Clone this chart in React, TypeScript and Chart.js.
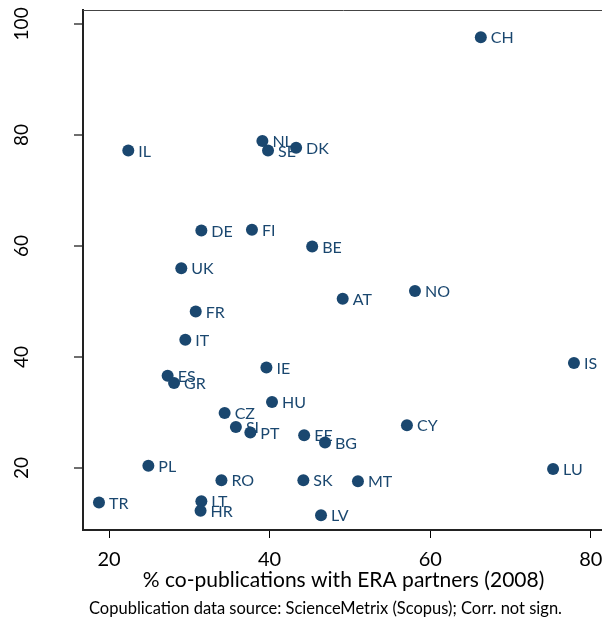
import React, { useEffect, useRef } from 'react';
import { Chart, registerables } from 'chart.js';

Chart.register(...registerables);

const countries = ['CH', 'IL', 'NL', 'SE', 'DK', 'DE', 'FI', 'BE', 'UK', 'AT', 'NO', 'FR', 'IT', 'IE', 'IS', 'ES', 'GR', 'HU', 'CZ', 'SI', 'PT', 'EE', 'BG', 'CY', 'PL', 'LU', 'RO', 'SK', 'MT', 'TR', 'LT', 'HR', 'LV'];
const eraCopubShare = [66.3, 22.4, 39.1, 39.8, 43.3, 31.5, 37.8, 45.3, 29.0, 49.1, 58.1, 30.8, 29.5, 39.6, 77.9, 27.3, 28.1, 40.3, 34.4, 35.8, 37.6, 44.3, 46.9, 57.1, 24.9, 75.3, 34.0, 44.2, 51.0, 18.75, 31.5, 31.4, 46.4];
const yValues = [97.6, 77.2, 78.9, 77.2, 77.7, 62.8, 62.9, 59.9, 56.0, 50.5, 51.9, 48.2, 43.1, 38.1, 38.9, 36.6, 35.3, 31.9, 29.9, 27.4, 26.4, 25.9, 24.6, 27.7, 20.4, 19.8, 17.8, 17.8, 17.6, 13.8, 14.0, 12.3, 11.5];
const xTicks = [20, 40, 60, 80];
const yTicks = [20, 40, 60, 80, 100];
const xTitle = '% co-publications with ERA partners (2008)';
const footer = 'Copublication data source: ScienceMetrix (Scopus); Corr. not sign.';

const NAVY = '#1a476f';
const FONT = 'Lato';

const pointLabels = {
  id: 'pointLabels',
  afterDatasetsDraw(chart: any) {
    const ctx = chart.ctx;
    const meta = chart.getDatasetMeta(0);
    ctx.save();
    ctx.fillStyle = NAVY;
    ctx.font = `16px ${FONT}`;
    ctx.textAlign = 'left';
    ctx.textBaseline = 'middle';
    meta.data.forEach((el: any, i: number) => {
      ctx.fillText(countries[i], el.x + 10, el.y + 1);
    });
    ctx.restore();
  },
};

const frameAndTexts = {
  id: 'frameAndTexts',
  afterDraw(chart: any) {
    const ctx = chart.ctx;
    const { left, right, top } = chart.chartArea;
    ctx.save();
    ctx.strokeStyle = '#444';
    ctx.lineWidth = 1;
    ctx.beginPath();
    ctx.moveTo(left, top + 0.5);
    ctx.lineTo(right, top + 0.5);
    ctx.stroke();
    const ys = chart.scales.y;
    ctx.fillStyle = '#000';
    ctx.font = `19px ${FONT}`;
    ctx.textAlign = 'center';
    ctx.textBaseline = 'middle';
    yTicks.forEach((v) => {
      const py = ys.getPixelForValue(v);
      ctx.save();
      ctx.translate(22, py);
      ctx.rotate(-Math.PI / 2);
      ctx.fillText(String(v), 0, 0);
      ctx.restore();
    });
    ctx.font = `16.5px ${FONT}`;
    ctx.fillText(footer, 325.5, 608.5);
    ctx.restore();
  },
};

export default function App() {
  const ref = useRef<HTMLCanvasElement | null>(null);
  useEffect(() => {
    if (!ref.current) return;
    const chart = new Chart(ref.current, {
      type: 'scatter',
      data: {
        datasets: [
          {
            data: eraCopubShare.map((x, i) => ({ x, y: yValues[i] })),
            backgroundColor: NAVY,
            borderWidth: 0,
            pointRadius: 6,
            pointHoverRadius: 6,
          },
        ],
      },
      options: {
        animation: false,
        responsive: false,
        devicePixelRatio: 1,
        layout: { autoPadding: false, padding: { top: 10, left: 0, right: 0, bottom: 0 } },
        plugins: {
          legend: { display: false },
          tooltip: { enabled: false },
          title: { display: false },
        },
        scales: {
          x: {
            type: 'linear',
            min: 16.76,
            max: 81.64,
            afterBuildTicks: (s: any) => {
              s.ticks = xTicks.map((v) => ({ value: v }));
            },
            afterFit: (s: any) => {
              s.height = 91;
              s.paddingLeft = 0;
              s.paddingRight = 0;
            },
            ticks: {
              color: '#000',
              font: { family: FONT, size: 20 },
              padding: 9.5,
              maxRotation: 0,
              callback: (v: any) => String(v),
            },
            grid: {
              drawOnChartArea: false,
              drawTicks: true,
              tickLength: 8,
              color: '#000',
              lineWidth: 1,
            },
            border: { display: true, color: '#222', width: 2 },
            title: {
              display: true,
              text: xTitle,
              color: '#000',
              font: { family: FONT, size: 21 },
              padding: { top: 0, bottom: 28 },
            },
          },
          y: {
            type: 'linear',
            min: 8.83,
            max: 102.5,
            afterBuildTicks: (s: any) => {
              s.ticks = yTicks.map((v) => ({ value: v }));
            },
            afterFit: (s: any) => {
              s.width = 83;
              s.paddingTop = 0;
              s.paddingBottom = 0;
            },
            ticks: { display: false },
            grid: {
              drawOnChartArea: false,
              drawTicks: true,
              tickLength: 9,
              color: '#6e6e6e',
              lineWidth: 2,
            },
            border: { display: true, color: '#222', width: 2 },
          },
        },
      },
      plugins: [pointLabels, frameAndTexts],
    } as any);
    return () => chart.destroy();
  }, []);
  return (
    <div
      style={{
        position: 'fixed',
        left: 0,
        top: 0,
        width: 602,
        height: 621,
        overflow: 'hidden',
        background: '#fff',
      }}
    >
      <canvas ref={ref} width={604} height={621} style={{ display: 'block' }} />
    </div>
  );
}
